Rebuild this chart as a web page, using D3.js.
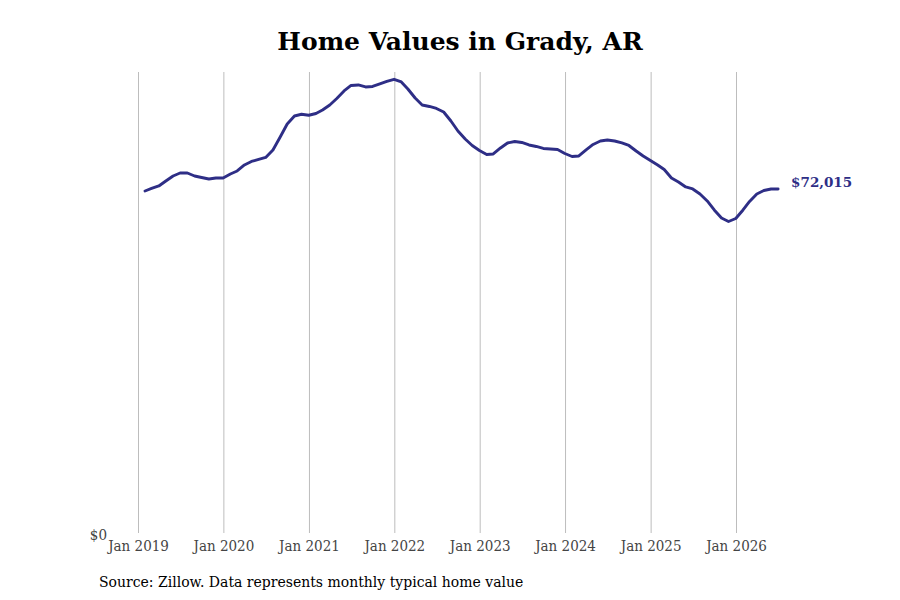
<!DOCTYPE html>
<html>
<head>
<meta charset="utf-8">
<script src="https://cdn.jsdelivr.net/npm/d3@7"></script>
<style>
  body { margin: 0; background: #fff; }
  svg { display: block; font-family: "DejaVu Serif", serif; }
  .tick text { font-family: "DejaVu Serif Condensed", "DejaVu Serif", serif; font-stretch: condensed; }
</style>
</head>
<body>
<div id="chart"></div>
<script>
// ! Data - typical home value, month-end, Jan 2019 to Jun 2026
var start_year = 2019;
var home_values = [
  71594, 72118, 72641, 73688, 74734, 75362, 75362, 74734, 74420, 74106, 74316, 74316,
  75153, 75781, 77037, 77770, 78189, 78607, 80177, 82899, 85620, 87295, 87651, 87441,
  87818, 88551, 89598, 90958, 92528, 93680, 93784, 93366, 93470, 93994, 94517, 94978,
  94412, 92947, 91063, 89598, 89283, 88865, 88132, 86248, 84155, 82480, 81119, 80073,
  79235, 79340, 80596, 81643, 81957, 81748, 81224, 80910, 80491, 80387, 80282, 79445,
  78816, 78921, 80177, 81329, 82061, 82271, 82061, 81643, 81119, 79968, 78921, 77979,
  77037, 76095, 74316, 73478, 72432, 72013, 70966, 69501, 67617, 65942, 65209, 65837,
  67617, 69396, 70966, 71699, 72013, 72015
];
var tick_years = [2019, 2020, 2021, 2022, 2023, 2024, 2025, 2026];
var y_ticks = [0];
var y_max = 96500;

var chart_data = home_values.map(function (v, i) {
  return { date: new Date(start_year, i + 1, 0), value: v };
});

// ! Layout
var width = 900,
    height = 600,
    plot_left = 138,
    plot_right = 736,
    plot_top = 72,
    plot_bottom = 533,
    line_colour = "#2e2e86";

var svg = d3.select("#chart")
  .append("svg")
  .attr("width", width)
  .attr("height", height);

var x = d3.scaleTime()
  .domain([new Date(2019, 0, 1), new Date(2026, 0, 1)])
  .range([plot_left, plot_right]);

var y = d3.scaleLinear()
  .domain([0, y_max])
  .range([plot_bottom, plot_top]);

// vertical gridlines + year labels
var xAxis = svg.append("g")
  .attr("transform", "translate(0," + plot_bottom + ")")
  .call(d3.axisBottom(x)
    .tickValues(tick_years.map(function (yr) { return new Date(yr, 0, 1); }))
    .tickFormat(d3.timeFormat("Jan %Y"))
    .tickSize(-(plot_bottom - plot_top))
    .tickPadding(7));

xAxis.select(".domain").remove();
xAxis.selectAll(".tick line").attr("stroke", "#bdbdbd").attr("stroke-width", 1);
xAxis.selectAll(".tick text")
  .attr("fill", "#444")
  .style("font-size", "15px");

var yAxis = svg.append("g")
  .attr("transform", "translate(" + plot_left + ",0)")
  .call(d3.axisLeft(y)
    .tickValues(y_ticks)
    .tickFormat(d3.format("$,.0f"))
    .tickSize(0)
    .tickPadding(31));

yAxis.select(".domain").remove();
yAxis.selectAll(".tick text")
  .attr("fill", "#444")
  .attr("dy", "0.45em")
  .style("font-size", "15px");

// the line
var line = d3.line()
  .x(function (d) { return x(d.date); })
  .y(function (d) { return y(d.value); });

svg.append("path")
  .datum(chart_data)
  .attr("fill", "none")
  .attr("stroke", line_colour)
  .attr("stroke-width", 2.9)
  .attr("stroke-linejoin", "round")
  .attr("stroke-linecap", "round")
  .attr("d", line);

// end label
var last = chart_data[chart_data.length - 1];
svg.append("text")
  .attr("x", x(last.date) + 13)
  .attr("y", y(last.value) - 5)
  .attr("dominant-baseline", "middle")
  .attr("fill", line_colour)
  .style("font-weight", "bold")
  .style("font-size", "13.5px")
  .text(d3.format("$,.0f")(last.value));

// title
svg.append("text")
  .attr("x", 460)
  .attr("y", 50)
  .attr("text-anchor", "middle")
  .attr("fill", "#000")
  .style("font-weight", "bold")
  .style("font-size", "25px")
  .text("Home Values in Grady, AR");

// source
svg.append("text")
  .attr("x", 99)
  .attr("y", 587)
  .attr("fill", "#000")
  .style("font-size", "14px")
  .text("Source: Zillow. Data represents monthly typical home value");
</script>
</body>
</html>
